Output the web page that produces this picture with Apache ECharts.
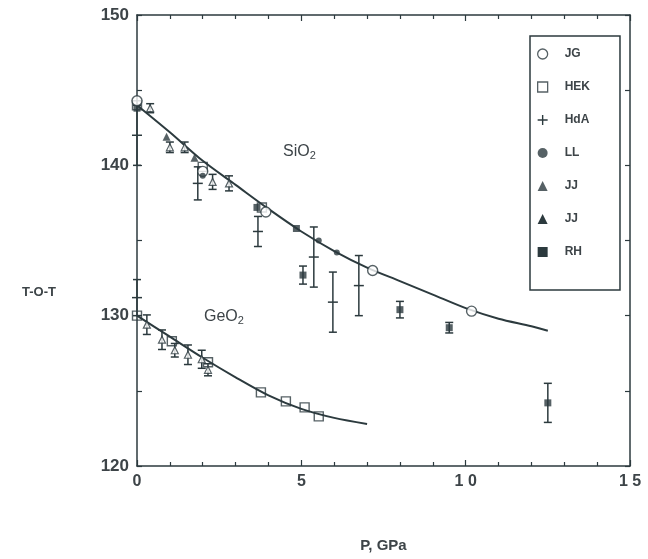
<!DOCTYPE html>
<html><head><meta charset="utf-8">
<script src="https://cdn.jsdelivr.net/npm/echarts@6/dist/echarts.min.js"></script>
<style>html,body{margin:0;padding:0;background:#fff}#c{width:648px;height:559px}</style>
</head><body><div id="c"></div>
<script>
// ---- data ----
const xTickValues = [0, 5, 10, 15];
const xTickLabels = ['0', '5', '1 0', '1 5'];
const yTickValues = [120, 130, 140, 150];
const yTickLabels = ['120', '130', '140', '150'];

const curveSiO2P = [0, 1, 2, 3, 4, 5, 6, 7, 8, 9, 10, 11, 12, 12.5];
const curveSiO2T = [144.0, 142.2, 140.3, 138.7, 137.1, 135.6, 134.3, 133.2, 132.3, 131.4, 130.5, 129.8, 129.3, 129.0];
const curveGeO2P = [0, 1, 2, 3, 4, 5, 6, 7];
const curveGeO2T = [130.0, 128.6, 127.2, 125.9, 124.7, 123.8, 123.2, 122.8];

const jgP = [0, 2.0, 3.92, 7.17, 10.18];
const jgT = [144.3, 139.6, 136.9, 133.0, 130.3];

const hekP = [0, 2.0, 3.8, 0, 1.06, 2.16, 3.77, 4.53, 5.1, 5.53];
const hekT = [144.0, 139.9, 137.2, 130.0, 128.3, 126.9, 124.9, 124.3, 123.9, 123.3];

const hdaP = [0, 1.85, 3.68, 5.38, 5.96, 6.75, 0];
const hdaT = [142.0, 138.8, 135.6, 133.9, 130.9, 132.0, 131.2];
const hdaErr = [2.0, 1.1, 1.0, 2.0, 2.0, 2.0, 1.2];

const llP = [2.0, 5.53, 6.08];
const llT = [139.3, 135.0, 134.2];

const jj1P = [0.9, 1.75];
const jj1T = [141.9, 140.5];

const jj2P = [0.4, 1.0, 1.45, 2.3, 2.8, 0.3, 0.76, 1.15, 1.55, 1.97, 2.16];
const jj2T = [143.8, 141.2, 141.2, 138.9, 138.8, 129.4, 128.4, 127.7, 127.4, 127.1, 126.4];
const jj2Err = [0.3, 0.35, 0.35, 0.5, 0.5, 0.65, 0.65, 0.45, 0.65, 0.6, 0.4];

const rhP = [0, 3.65, 4.85, 5.05, 8.0, 9.5, 12.5];
const rhT = [143.8, 137.2, 135.8, 132.7, 130.4, 129.2, 124.2];
const rhErr = [0, 0, 0, 0.6, 0.55, 0.35, 1.3];

// ---- chart ----
const INK = '#2c3a3e';
const TXT = '#3d4448';
const FONT = '"Liberation Sans", Arial, sans-serif';
const zip = (a, b) => a.map((v, i) => [v, b[i]]);

function errorBars(name, xs, ys, es, plus) {
  const data = [];
  xs.forEach((x, i) => { if (es[i] > 0) data.push([x, ys[i], es[i]]); });
  return {
    type: 'custom', name: name, silent: true, z: 3,
    itemStyle: { color: INK },
    encode: { x: 0, y: 1 },
    data: data,
    renderItem: function (params, api) {
      const x = api.value(0), y = api.value(1), e = api.value(2);
      const t = api.coord([x, y + e]);
      const b = api.coord([x, y - e]);
      const c = api.coord([x, y]);
      const w = 4;
      const st = { stroke: INK, lineWidth: 1.5 };
      const ch = [
        { type: 'line', shape: { x1: t[0], y1: t[1], x2: b[0], y2: b[1] }, style: st },
        { type: 'line', shape: { x1: t[0] - w, y1: t[1], x2: t[0] + w, y2: t[1] }, style: st },
        { type: 'line', shape: { x1: b[0] - w, y1: b[1], x2: b[0] + w, y2: b[1] }, style: st }
      ];
      if (plus) ch.push({ type: 'line', shape: { x1: c[0] - 5, y1: c[1], x2: c[0] + 5, y2: c[1] }, style: st });
      return { type: 'group', children: ch };
    }
  };
}

function axisCommon() {
  return {
    axisLine: { show: true, onZero: false, lineStyle: { color: INK, width: 1.5 } },
    splitLine: { show: false },
    axisTick: { show: true, inside: true, length: 6, lineStyle: { color: INK, width: 1.2 } }
  };
}

const chart = echarts.init(document.getElementById('c'), null, { renderer: 'canvas' });
const option = {
  backgroundColor: '#fff',
  animation: false,
  textStyle: { fontFamily: FONT },
  grid: { left: 137, right: 18, top: 15, bottom: 93 },
  xAxis: [
    Object.assign(axisCommon(), {
      type: 'value', min: 0, max: 15, interval: 5, position: 'bottom',
      minorTick: { show: true, splitNumber: 5, length: 4, lineStyle: { color: INK, width: 1.2 } },
      minorSplitLine: { show: false },
      axisLabel: {
        color: TXT, fontSize: 16, fontWeight: 'bold', margin: 8, fontFamily: FONT,
        formatter: v => { const i = xTickValues.indexOf(v); return i >= 0 ? xTickLabels[i] : ''; }
      },
      name: 'P, GPa', nameLocation: 'middle', nameGap: 72,
      nameTextStyle: { color: TXT, fontSize: 15, fontWeight: 'bold', fontFamily: FONT }
    }),
    Object.assign(axisCommon(), {
      type: 'value', min: 0, max: 15, interval: 5, position: 'top',
      minorTick: { show: true, splitNumber: 5, length: 4, lineStyle: { color: INK, width: 1.2 } },
      axisLabel: { show: false }
    })
  ],
  yAxis: [
    Object.assign(axisCommon(), {
      type: 'value', min: 120, max: 150, interval: 5, position: 'left',
      axisTick: { show: true, inside: true, length: 5, lineStyle: { color: INK, width: 1.2 } },
      axisLabel: {
        color: TXT, fontSize: 17, fontWeight: 'bold', margin: 8, fontFamily: FONT,
        formatter: v => { const i = yTickValues.indexOf(v); return i >= 0 ? yTickLabels[i] : ''; }
      }
    }),
    Object.assign(axisCommon(), {
      type: 'value', min: 120, max: 150, interval: 5, position: 'right',
      axisTick: { show: true, inside: true, length: 5, lineStyle: { color: INK, width: 1.2 } },
      axisLabel: { show: false }
    })
  ],
  legend: {
    orient: 'vertical', left: 530, top: 36,
    padding: [12, 30, 32, 7],
    borderColor: INK, borderWidth: 1.5,
    itemWidth: 18, itemHeight: 10, itemGap: 21,
    selectedMode: false,
    textStyle: { color: TXT, fontSize: 12, fontWeight: 'bold', lineHeight: 10, padding: [0, 0, 0, 8], fontFamily: FONT },
    formatter: n => n.trim(),
    data: [
      { name: 'JG', icon: 'circle', itemStyle: { color: '#fff', borderColor: INK, borderWidth: 1.3 } },
      { name: 'HEK', icon: 'path://M1,1h8v8h-8z', itemStyle: { color: '#fff', borderColor: INK, borderWidth: 1.3 } },
      { name: 'HdA', icon: 'path://M4.3,0h1.4v10h-1.4z M0,4.3h10v1.4h-10z', itemStyle: { color: INK } },
      { name: 'LL', icon: 'path://M2,5a3,3 0 1,0 6,0a3,3 0 1,0 -6,0z', itemStyle: { color: INK } },
      { name: 'JJ', icon: 'path://M5,1L9,9L1,9z', itemStyle: { color: INK } },
      { name: 'JJ ', icon: 'path://M5,1L9,9L1,9z', itemStyle: { color: INK } },
      { name: 'RH', icon: 'path://M2,2h6v6h-6z', itemStyle: { color: INK } }
    ]
  },
  graphic: [
    { type: 'text', left: 22, top: 286, style: { text: 'T-O-T', fill: TXT, font: 'bold 13px ' + FONT } },
    { type: 'text', left: 283, top: 144, style: {
      text: '{a|SiO}{s|2}', rich: { a: { fill: TXT, font: '16px ' + FONT }, s: { fill: TXT, font: '11px ' + FONT, padding: [8, 0, 0, 0] } } } },
    { type: 'text', left: 204, top: 309, style: {
      text: '{a|GeO}{s|2}', rich: { a: { fill: TXT, font: '16px ' + FONT }, s: { fill: TXT, font: '11px ' + FONT, padding: [8, 0, 0, 0] } } } }
  ],
  series: [
    { name: 'curveSiO2', type: 'line', smooth: 0.3, showSymbol: false, silent: true, z: 2,
      lineStyle: { color: INK, width: 2 }, data: zip(curveSiO2P, curveSiO2T) },
    { name: 'curveGeO2', type: 'line', smooth: 0.3, showSymbol: false, silent: true, z: 2,
      lineStyle: { color: INK, width: 2 }, data: zip(curveGeO2P, curveGeO2T) },
    errorBars('HdA', hdaP, hdaT, hdaErr, true),
    errorBars('JJ ', jj2P, jj2T, jj2Err, false),
    errorBars('RH', rhP, rhT, rhErr, false),
    { name: 'RH', type: 'scatter', symbol: 'rect', symbolSize: 7, z: 4,
      itemStyle: { color: INK }, data: zip(rhP, rhT) },
    { name: 'HEK', type: 'scatter', symbol: 'rect', symbolSize: 9, z: 5,
      itemStyle: { color: 'rgba(255,255,255,0)', borderColor: INK, borderWidth: 1.4 }, data: zip(hekP, hekT) },
    { name: 'JG', type: 'scatter', symbol: 'circle', symbolSize: 10, z: 5,
      itemStyle: { color: '#fff', borderColor: INK, borderWidth: 1.4 }, data: zip(jgP, jgT) },
    { name: 'LL', type: 'scatter', symbol: 'circle', symbolSize: 6, z: 6,
      itemStyle: { color: INK }, data: zip(llP, llT) },
    { name: 'JJ', type: 'scatter', symbol: 'triangle', symbolSize: 8, z: 6,
      itemStyle: { color: INK }, data: zip(jj1P, jj1T) },
    { name: 'JJ ', type: 'scatter', symbol: 'triangle', symbolSize: 7, z: 6,
      itemStyle: { color: '#fff', borderColor: INK, borderWidth: 1.2 }, data: zip(jj2P, jj2T) }
  ]
};
chart.setOption(option);
</script></body></html>
